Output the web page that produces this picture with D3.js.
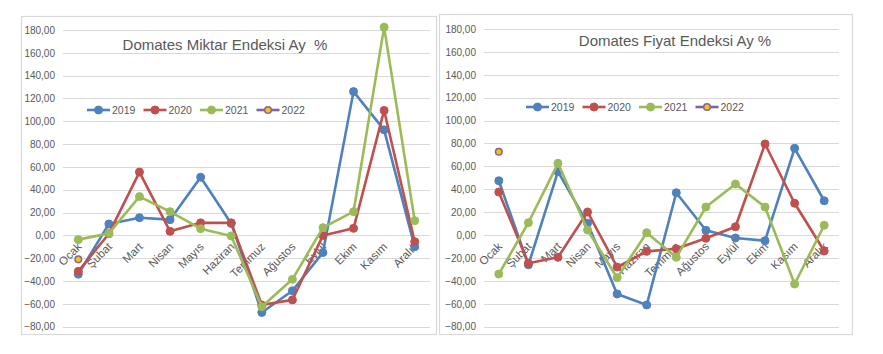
<!DOCTYPE html>
<html>
<head>
<meta charset="utf-8">
<script src="https://cdn.jsdelivr.net/npm/d3@7"></script>
<style>
  body { margin: 0; background: #fff; }
  svg { font-family: "Liberation Sans", Arial, sans-serif; }
</style>
</head>
<body>
<div id="chart"></div>
<script>
// month names (category axis)
const months = ["Ocak", "Şubat", "Mart", "Nisan", "Mayıs", "Haziran", "Temmuz", "Ağustos", "Eylül", "Ekim", "Kasım", "Aralık"];
const years = ["2019", "2020", "2021", "2022"];
const yTicks = [180, 160, 140, 120, 100, 80, 60, 40, 20, 0, -20, -40, -60, -80];

// Domates Miktar Endeksi (left)
const miktar2019 = [-34, 10, 15.5, 13.8, 51, 10.5, -67.5, -48.5, -15, 126, 92.5, -10];
const miktar2020 = [-31.5, 1.5, 55.5, 3.6, 11, 11, -61, -56.5, 0, 6.2, 109.5, -5.5];
const miktar2021 = [-3.7, 1.8, 34, 20.8, 5.9, -0.5, -62.5, -38.5, 6.8, 20.8, 182.5, 12.9];
const miktar2022 = [-21];

// Domates Fiyat Endeksi (right)
const fiyat2019 = [47.5, -26, 55.4, 10.3, -51.4, -61, 37, 4.2, -2.5, -4.9, 75.8, 30];
const fiyat2020 = [37.6, -24.6, -19.4, 20.2, -27.9, -14.2, -11.9, -2.8, 7.3, 79.6, 27.8, -13.9];
const fiyat2021 = [-34, 10.8, 62.7, 4.5, -37.2, 2.1, -19.4, 24.5, 44.6, 24.5, -42.7, 8.6];
const fiyat2022 = [72.8];

const colors = {"2019": "#4F81BD", "2020": "#C0504D", "2021": "#9BBB59", "2022": "#8064A2"};

const svg = d3.select("#chart").append("svg")
    .attr("width", 883)
    .attr("height", 354);

function drawChart(cfg) {
    let g = svg.append("g");

    // outer frame
    g.append("rect")
        .attr("x", cfg.box[0] + 0.5)
        .attr("y", cfg.box[1] + 0.5)
        .attr("width", cfg.box[2] - cfg.box[0])
        .attr("height", cfg.box[3] - cfg.box[1])
        .attr("fill", "#fff")
        .attr("stroke", "#d9d9d9")
        .attr("stroke-width", 1.2);

    let x = d3.scaleBand()
        .domain(months)
        .range([cfg.left, cfg.right]);

    let y = d3.scaleLinear()
        .domain([-80, 180])
        .range([cfg.bottom, cfg.top]);

    // gridlines
    g.selectAll(".grid")
        .data(yTicks)
        .enter().append("line")
        .attr("x1", cfg.left)
        .attr("x2", cfg.right)
        .attr("y1", d => Math.round(y(d)) + 0.5)
        .attr("y2", d => Math.round(y(d)) + 0.5)
        .attr("stroke", "#d9d9d9")
        .attr("stroke-width", 1);

    // y axis labels
    let yAxis = d3.axisLeft(y)
        .tickValues(yTicks)
        .tickSize(0)
        .tickPadding(8)
        .tickFormat(d => d3.format(".2f")(d).replace(".", ","));

    g.append("g")
        .attr("transform", "translate(" + cfg.left + ",0)")
        .call(yAxis)
        .call(a => a.select(".domain").remove())
        .call(a => a.selectAll("text")
            .attr("fill", "#595959")
            .attr("font-size", "10px")
            .attr("font-family", "\"Liberation Sans\", Arial, sans-serif"));

    // month labels, rotated, sitting under the zero line
    g.selectAll(".month")
        .data(months)
        .enter().append("text")
        .attr("text-anchor", "end")
        .attr("fill", "#595959")
        .attr("font-size", "11.5px")
        .attr("transform", d => "translate(" + (x(d) + x.bandwidth() / 2 + 4) + "," + (y(0) + 12) + ") rotate(-45)")
        .text(d => d);

    // series lines
    let line = d3.line()
        .x((d, i) => x(months[i]) + x.bandwidth() / 2)
        .y(d => y(d));

    cfg.series.forEach(function (s, k) {
        let yr = years[k];
        if (s.length > 1) {
            g.append("path")
                .datum(s)
                .attr("d", line)
                .attr("fill", "none")
                .attr("stroke", colors[yr])
                .attr("stroke-width", 2.6)
                .attr("stroke-linejoin", "round");
        }
        g.selectAll(".pt" + yr)
            .data(s)
            .enter().append("circle")
            .attr("cx", (d, i) => x(months[i]) + x.bandwidth() / 2)
            .attr("cy", d => y(d))
            .attr("r", yr === "2022" ? 3.3 : 4)
            .attr("fill", yr === "2022" ? "#FFC000" : colors[yr])
            .attr("stroke", colors[yr])
            .attr("stroke-width", yr === "2022" ? 1.5 : 1);
    });

    // title
    g.append("text")
        .attr("x", cfg.titleX)
        .attr("y", cfg.titleY)
        .attr("text-anchor", "middle")
        .attr("fill", "#595959")
        .attr("font-size", "15px")
        .style("white-space", "pre")
        .text(cfg.title);

    // legend
    years.forEach(function (yr, k) {
        let lx = cfg.legendX + k * 56.5;
        let lg = g.append("g").attr("transform", "translate(" + lx + "," + cfg.legendY + ")");
        lg.append("line")
            .attr("x1", 0).attr("x2", 23)
            .attr("y1", 0).attr("y2", 0)
            .attr("stroke", colors[yr])
            .attr("stroke-width", 2.6);
        lg.append("circle")
            .attr("cx", 11.5).attr("cy", 0)
            .attr("r", yr === "2022" ? 3.3 : 4)
            .attr("fill", yr === "2022" ? "#FFC000" : colors[yr])
            .attr("stroke", colors[yr])
            .attr("stroke-width", yr === "2022" ? 1.5 : 1);
        lg.append("text")
            .attr("x", 25)
            .attr("y", 0)
            .attr("dy", "0.35em")
            .attr("fill", "#595959")
            .attr("font-size", "10.5px")
            .text(yr);
    });
}

drawChart({
    box: [21, 16, 436, 334],
    left: 63, right: 430, top: 30, bottom: 326.7,
    title: "Domates Miktar Endeksi Ay  %",
    titleX: 225, titleY: 50,
    legendX: 87, legendY: 110,
    series: [miktar2019, miktar2020, miktar2021, miktar2022]
});

drawChart({
    box: [439, 14, 852, 334],
    left: 484, right: 839, top: 29, bottom: 326.7,
    title: "Domates Fiyat Endeksi Ay %",
    titleX: 675, titleY: 46,
    legendX: 526, legendY: 107,
    series: [fiyat2019, fiyat2020, fiyat2021, fiyat2022]
});
</script>
</body>
</html>
